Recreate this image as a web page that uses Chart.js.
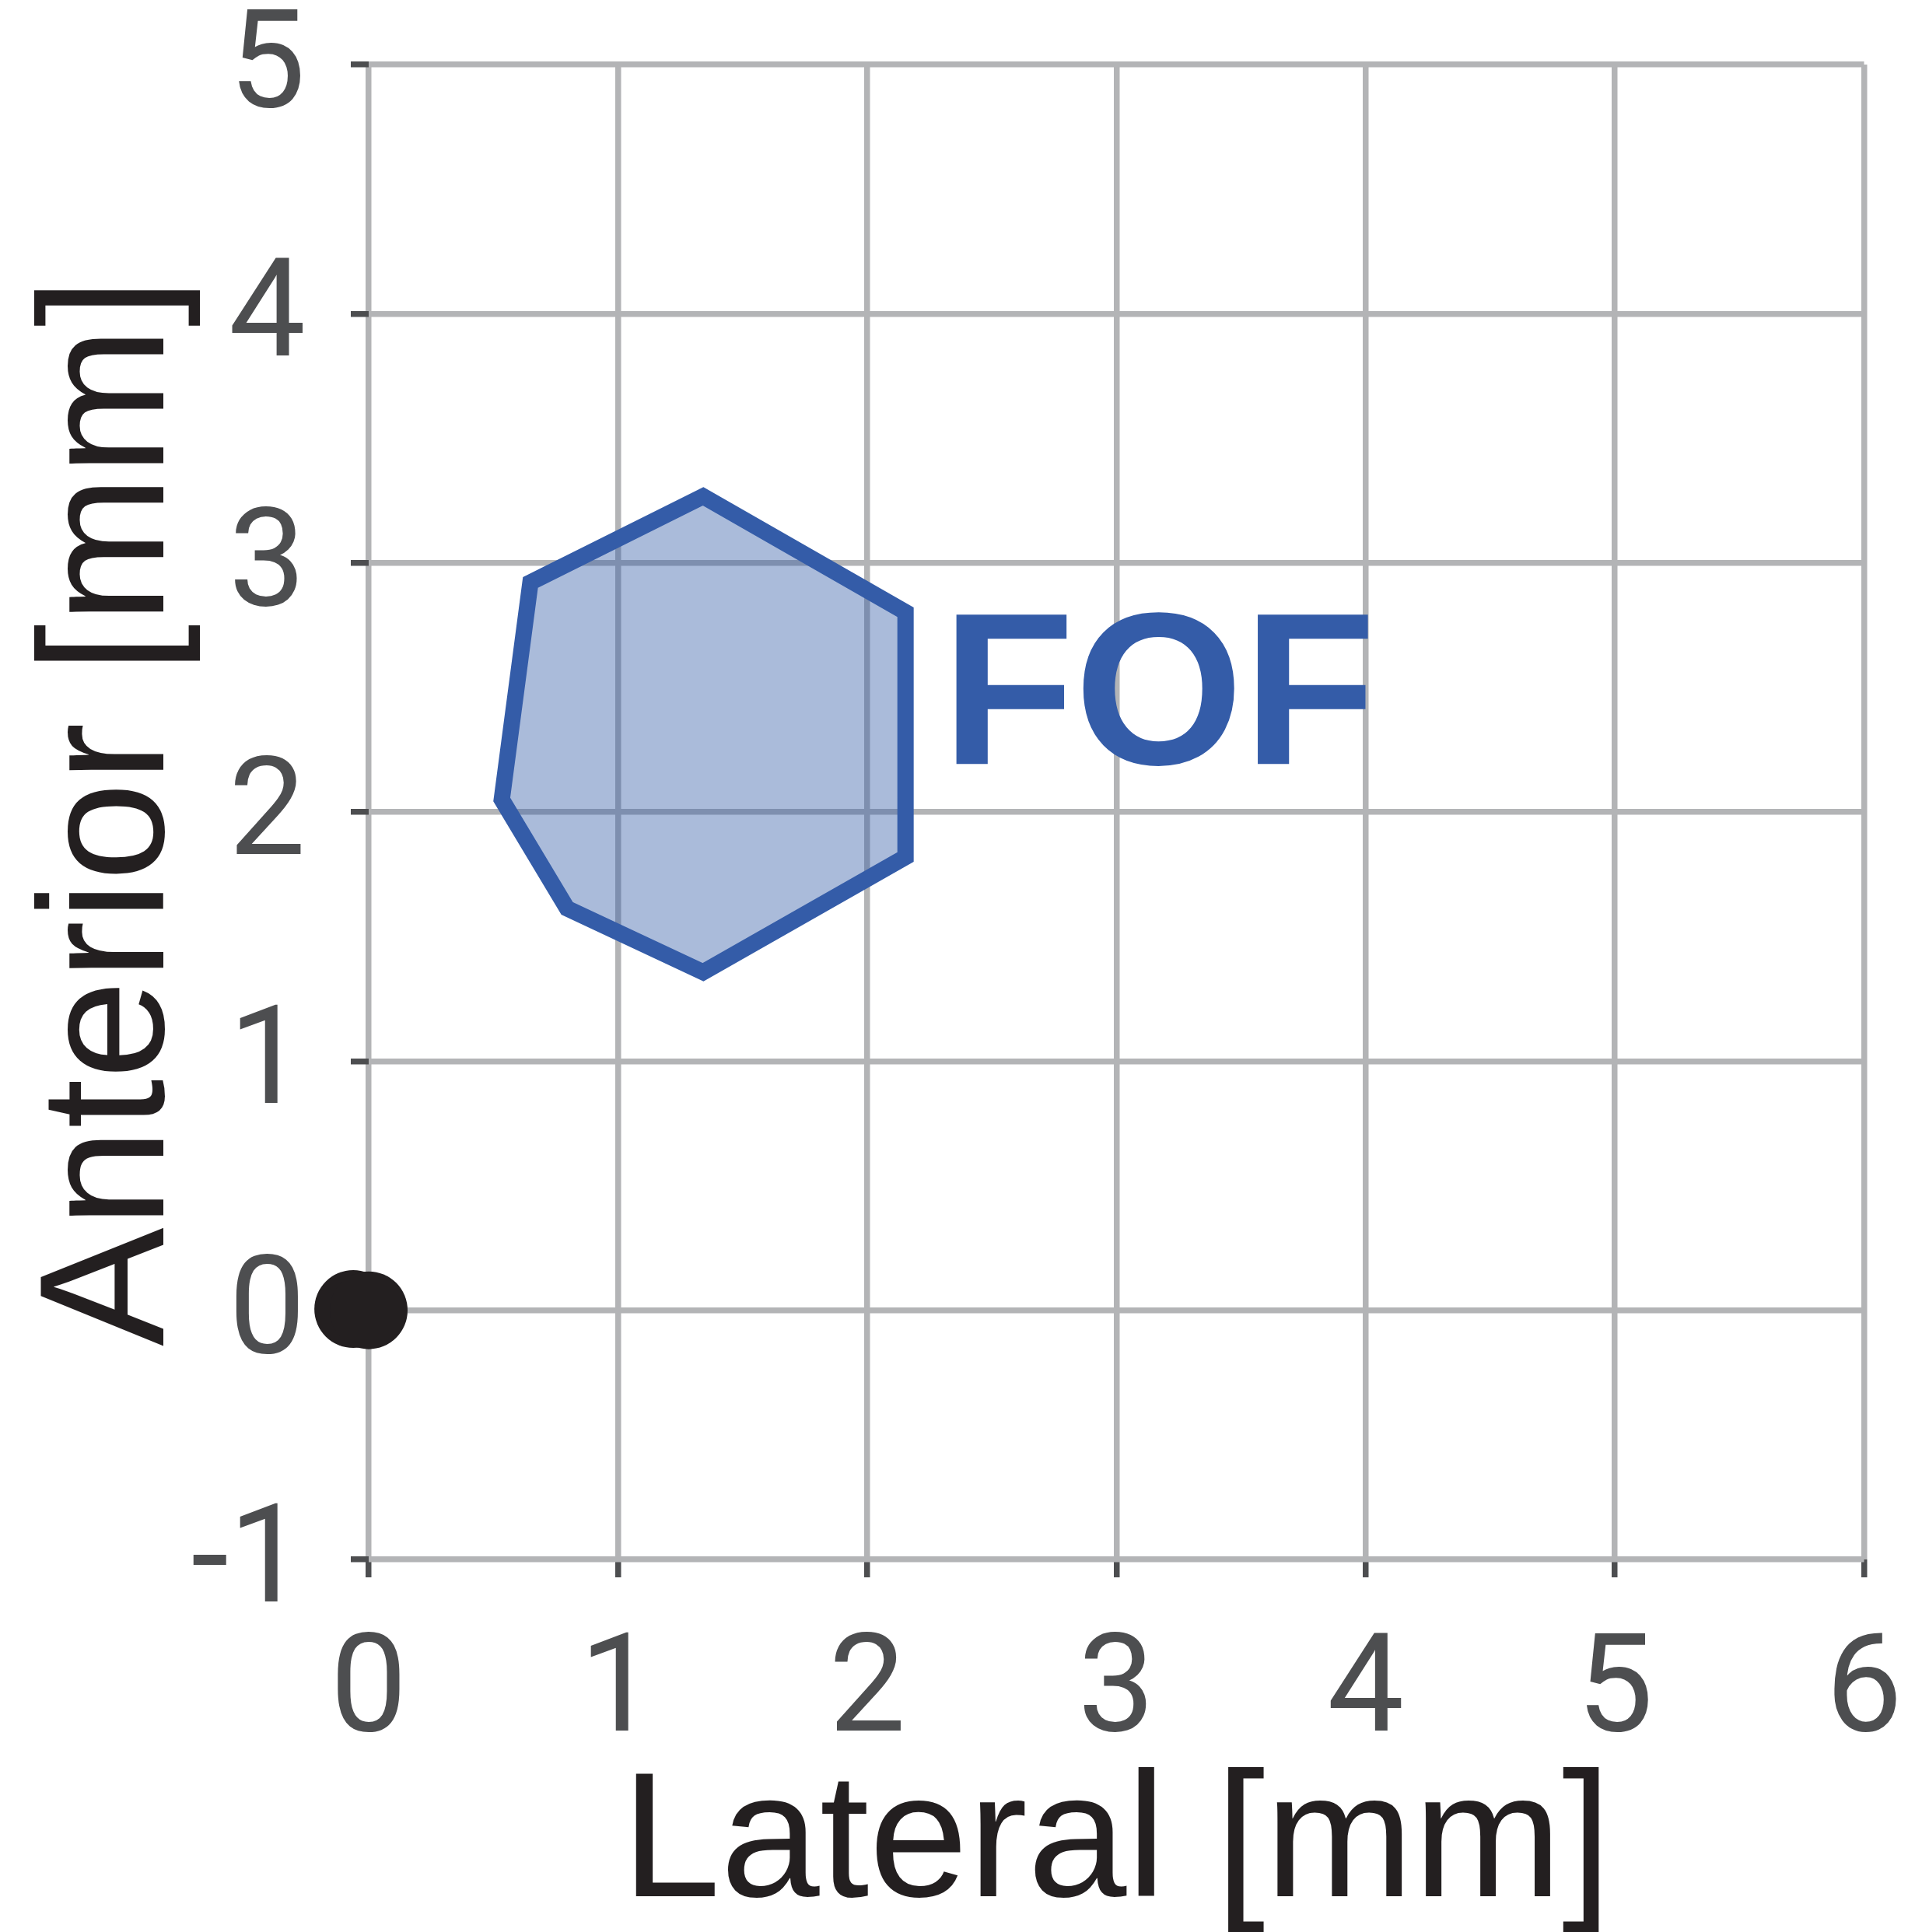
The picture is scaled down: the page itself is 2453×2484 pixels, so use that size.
<!DOCTYPE html>
<html><head><meta charset="utf-8">
<script src="https://cdn.jsdelivr.net/npm/chart.js@4.4.1/dist/chart.umd.min.js"></script>
<style>html,body{margin:0;padding:0;background:#fff;}canvas{display:block;}</style>
</head><body>
<canvas id="c" width="2453" height="2484"></canvas>
<script>
// ---- data ----
const xTickValues = [0, 1, 2, 3, 4, 5, 6];
const yTickValues = [-1, 0, 1, 2, 3, 4, 5];
// FOF region outline (vertices, in order)
const fofLateral  = [1.342, 0.649, 0.534, 0.796, 1.342, 2.154, 2.154];
const fofAnterior = [3.267, 2.921, 2.050, 1.613, 1.357, 1.819, 2.802];
// reference points (black dots)
const refLateral  = [-0.062, 0.0];
const refAnterior = [0.005, 0.0];
const regionLabel = 'FOF';
const xTitleText = 'Lateral [mm]';
const yTitleText = 'Anterior [mm]';

// ---- styling ----
const BLUE = '#345ca8';
const GRID = '#b3b4b6';
const TICKC = '#4d4e50';
const DARK = '#231f20';
const FONT = '"Liberation Sans", Arial, Helvetica, sans-serif';
const TICKFONT = 'Roboto, "Liberation Sans", Arial, sans-serif';
const labelAnchor = {x: 2.30, y: 2.193};

// polygon: go once around and overlap the first edge so every corner gets a mitred join
const order = [0, 1, 2, 3, 4, 5, 6, 0, 1];
const fofPoints = order.map(i => ({x: fofLateral[i], y: fofAnterior[i]}));
const refPoints = refLateral.map((v, i) => ({x: v, y: refAnterior[i]}));

const regionLabelPlugin = {
  id: 'regionLabel',
  afterDatasetsDraw(chart) {
    const {ctx, scales: {x, y}} = chart;
    ctx.save();
    ctx.font = 'bold 279px ' + FONT;
    ctx.fillStyle = BLUE;
    ctx.textAlign = 'left';
    ctx.textBaseline = 'alphabetic';
    ctx.fillText(regionLabel, x.getPixelForValue(labelAnchor.x), y.getPixelForValue(labelAnchor.y));
    ctx.restore();
  }
};

function noPad(s) { s.paddingTop = 0; s.paddingBottom = 0; s.paddingLeft = 0; s.paddingRight = 0; }

new Chart(document.getElementById('c'), {
  type: 'scatter',
  data: {
    datasets: [
      {
        label: regionLabel,
        data: fofPoints,
        showLine: true,
        fill: 'shape',
        backgroundColor: 'rgba(52,92,168,0.42)',
        borderColor: BLUE,
        borderWidth: 21,
        borderJoinStyle: 'miter',
        borderCapStyle: 'butt',
        tension: 0,
        pointRadius: 0,
        pointHoverRadius: 0,
        order: 2
      },
      {
        label: 'reference',
        data: refPoints,
        showLine: false,
        pointRadius: 50,
        pointHoverRadius: 50,
        pointBackgroundColor: DARK,
        pointBorderWidth: 0,
        borderWidth: 0,
        clip: false,
        order: 1
      }
    ]
  },
  options: {
    responsive: false,
    devicePixelRatio: 1,
    animation: false,
    events: [],
    layout: {padding: {top: 83, right: 56.5, left: 0, bottom: 0}},
    plugins: {legend: {display: false}, tooltip: {enabled: false}},
    scales: {
      x: {
        type: 'linear',
        min: 0, max: 6,
        afterFit: s => { s.height = 479; noPad(s); },
        afterBuildTicks: s => { s.ticks = xTickValues.map(v => ({value: v})); },
        grid: {color: GRID, lineWidth: 7.5, drawTicks: true, tickLength: 23, tickWidth: 7.5, tickColor: TICKC},
        border: {display: false},
        ticks: {color: TICKC, font: {family: TICKFONT, size: 176}, padding: 47, maxRotation: 0, autoSkip: false},
        title: {display: true, text: xTitleText, color: DARK, font: {family: FONT, size: 229, lineHeight: 0.9}, padding: {top: 0, bottom: 6}}
      },
      y: {
        type: 'linear',
        min: -1, max: 5,
        afterFit: s => { s.width = 474; noPad(s); },
        afterBuildTicks: s => { s.ticks = yTickValues.map(v => ({value: v})); },
        grid: {color: GRID, lineWidth: 7.5, drawTicks: true, tickLength: 23, tickWidth: 7.5, tickColor: TICKC},
        border: {display: false},
        ticks: {color: TICKC, font: {family: TICKFONT, size: 176}, padding: 58, labelOffset: 10, autoSkip: false},
        title: {display: true, text: yTitleText, color: DARK, font: {family: FONT, size: 229, lineHeight: 1}, padding: {top: 32, bottom: 0}}
      }
    }
  },
  plugins: [regionLabelPlugin]
});
</script>
</body></html>
